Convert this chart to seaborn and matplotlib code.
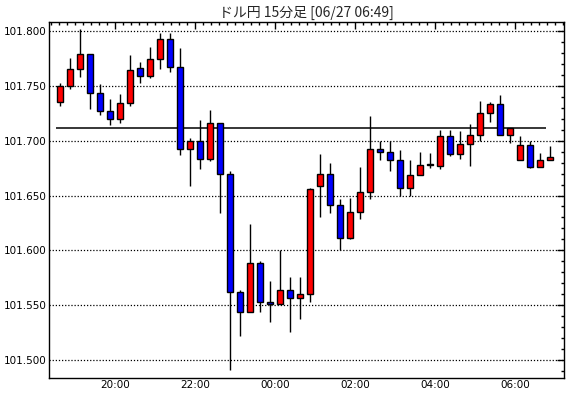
import numpy as np
import pandas as pd
import seaborn as sns
import matplotlib
matplotlib.use("Agg")
import matplotlib.pyplot as plt
import matplotlib.dates as mdates
from matplotlib.ticker import MultipleLocator, FormatStrFormatter

# 15-minute candles, USD/JPY, 06/26 18:30 -> 06/27 06:45
start_time = "2024-06-26 18:30"
opens = [101.735, 101.750, 101.765, 101.779, 101.743, 101.727, 101.720, 101.734, 101.766, 101.759,
         101.774, 101.792, 101.767, 101.692, 101.700, 101.683, 101.716, 101.670, 101.562, 101.544,
         101.589, 101.553, 101.551, 101.564, 101.557, 101.560, 101.659, 101.670, 101.641, 101.611,
         101.635, 101.653, 101.692, 101.690, 101.682, 101.657, 101.669, 101.678, 101.677, 101.704,
         101.688, 101.697, 101.705, 101.725, 101.733, 101.705, 101.682, 101.696, 101.676, 101.682]
highs = [101.752, 101.775, 101.801, 101.779, 101.751, 101.738, 101.742, 101.778, 101.771, 101.785,
         101.798, 101.798, 101.784, 101.702, 101.719, 101.728, 101.716, 101.672, 101.564, 101.624,
         101.590, 101.572, 101.600, 101.576, 101.576, 101.657, 101.688, 101.680, 101.647, 101.648,
         101.676, 101.722, 101.700, 101.700, 101.691, 101.682, 101.690, 101.689, 101.710, 101.710,
         101.709, 101.715, 101.736, 101.735, 101.741, 101.711, 101.704, 101.700, 101.689, 101.695]
lows = [101.731, 101.747, 101.758, 101.729, 101.723, 101.714, 101.716, 101.731, 101.752, 101.757,
        101.765, 101.762, 101.687, 101.659, 101.674, 101.681, 101.634, 101.491, 101.522, 101.544,
        101.544, 101.535, 101.551, 101.526, 101.538, 101.553, 101.630, 101.634, 101.600, 101.610,
        101.629, 101.647, 101.682, 101.672, 101.650, 101.650, 101.669, 101.675, 101.674, 101.686,
        101.683, 101.677, 101.700, 101.717, 101.705, 101.698, 101.682, 101.675, 101.676, 101.682]
closes = [101.750, 101.765, 101.779, 101.743, 101.727, 101.720, 101.734, 101.764, 101.759, 101.774,
          101.792, 101.767, 101.692, 101.700, 101.683, 101.716, 101.670, 101.562, 101.544, 101.589,
          101.553, 101.551, 101.564, 101.557, 101.560, 101.656, 101.670, 101.641, 101.611, 101.635,
          101.653, 101.692, 101.690, 101.682, 101.657, 101.669, 101.678, 101.678, 101.704, 101.688,
          101.697, 101.705, 101.725, 101.733, 101.705, 101.711, 101.696, 101.676, 101.682, 101.685]
ref_level = 101.711
title = "ドル円 15分足 [06/27 06:49]"

df = pd.DataFrame({"time": pd.date_range(start_time, periods=len(opens), freq="15min"),
                   "open": opens, "high": highs, "low": lows, "close": closes})
df["x"] = mdates.date2num(df["time"] + pd.Timedelta(minutes=7.5))

sns.set_style("white")
plt.rcParams["font.family"] = ["DejaVu Sans"]

fig = plt.figure(figsize=(5.7, 3.98), dpi=100)
ax = fig.add_axes([49.3 / 570, 1 - 377.5 / 398, 514.7 / 570, 355.2 / 398])

# gridlines at major price ticks
for lv in np.arange(101.50, 101.801, 0.05):
    ax.axhline(lv, color="black", lw=0.9, ls=(0, (1, 1.5)), zorder=1)

# reference line
ax.hlines(ref_level, df["x"].iloc[0] - 0.004, df["x"].iloc[-1] - 0.004, color="black", lw=1.1, zorder=2)

# wicks
ax.vlines(df["x"], df["low"], df["high"], color="black", lw=1, zorder=3)

# bodies
up = df["close"] > df["open"]
down = df["close"] < df["open"]
body_w = 9 / 1440
bottoms = np.minimum(df["open"], df["close"])
heights = np.maximum((df["close"] - df["open"]).abs(), 0.0004)
colors = np.where(up, "#ff0000", np.where(down, "#0000ff", "black"))
ax.bar(df["x"], heights, bottom=bottoms, width=body_w, color=colors,
       edgecolor="black", linewidth=1, zorder=4)

ax.set_ylim(101.4845, 101.8075)
ax.set_xlim(mdates.date2num(pd.Timestamp("2024-06-26 18:21")),
            mdates.date2num(pd.Timestamp("2024-06-27 07:13")))

ax.yaxis.set_major_locator(MultipleLocator(0.05))
ax.yaxis.set_minor_locator(MultipleLocator(0.01))
ax.yaxis.set_major_formatter(FormatStrFormatter("%.3f"))
ax.xaxis.set_major_locator(mdates.HourLocator(byhour=range(0, 24, 2)))
ax.xaxis.set_minor_locator(mdates.MinuteLocator(byminute=[0, 12, 24, 36, 48]))
ax.xaxis.set_major_formatter(mdates.DateFormatter("%H:%M"))

ax.tick_params(which="both", direction="in", top=True, right=True, color="black",
               labelsize=7.5, labelcolor="black", pad=2)
ax.tick_params(which="major", length=5, width=1)
ax.tick_params(which="minor", length=2.5, width=1)
for s in ax.spines.values():
    s.set_color("black")
    s.set_linewidth(1)

fig.text((49.3 + 257.4) / 570, 1 - 12.5 / 398, title, ha="center", va="center", fontsize=10,
         family=["Noto Sans CJK JP", "DejaVu Sans"])

fig.savefig("out.png", dpi=100, facecolor="white")
